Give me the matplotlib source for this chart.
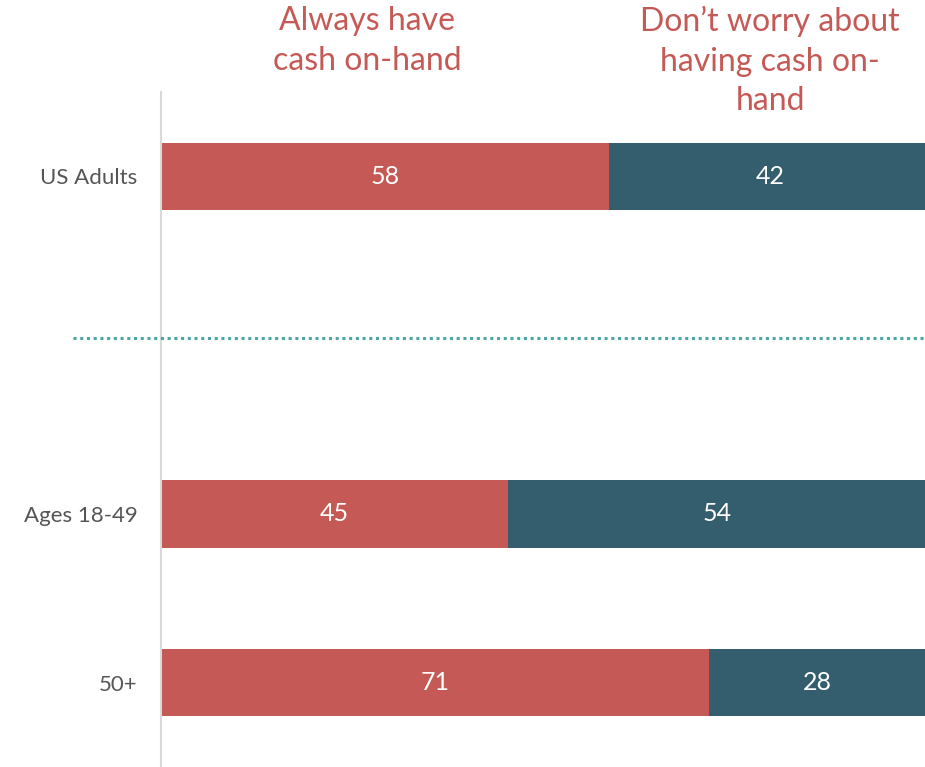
import matplotlib
matplotlib.use("Agg")
import matplotlib.pyplot as plt
import matplotlib.transforms as mtransforms

categories = ["US Adults", "Ages 18-49", "50+"]
positions = [0, 2, 3]
always_cash = [58, 45, 71]
dont_worry = [42, 54, 28]
headers = ["Always have\ncash on-hand", "Don\u2019t worry about\nhaving cash on-\nhand"]

RED = "#C45955"
TEAL = "#345E6E"
DOT = "#4BA6A6"

plt.rcParams["font.family"] = ["Lato", "DejaVu Sans"]

fig = plt.figure(figsize=(9.25, 7.67), dpi=100)
ax = fig.add_axes([161 / 925, 0.0, 1 - 161 / 925, 1 - 92 / 767])

ax.barh(positions, always_cash, height=0.4, color=RED)
ax.barh(positions, dont_worry, left=always_cash, height=0.4, color=TEAL)

for y, a, d in zip(positions, always_cash, dont_worry):
    ax.text(a / 2, y, str(a), ha="center", va="center", color="white", fontsize=18)
    ax.text(a + d / 2, y, str(d), ha="center", va="center", color="white", fontsize=18)

ax.set_xlim(0, 99)
ax.set_ylim(3.5, -0.5)
ax.set_yticks(positions)
ax.set_yticklabels(categories, fontsize=16, color="#555555")
ax.tick_params(axis="y", length=0, pad=17)
ax.set_xticks([])
for side in ["top", "right", "bottom"]:
    ax.spines[side].set_visible(False)
ax.spines["left"].set_color("#d9d9d9")
ax.spines["left"].set_linewidth(1.5)

# dotted separator between total and age groups
trans = mtransforms.blended_transform_factory(ax.transAxes, ax.transData)
ax.plot([(73 - 161) / (925 - 161), 1.0], [0.96, 0.96], transform=trans,
        color=DOT, linestyle=(0, (1, 1.2)), linewidth=2.2, clip_on=False, zorder=3)

fig.text(367 / 925, 1 - 6 / 767, headers[0], ha="center", va="top",
         color=RED, fontsize=23, linespacing=1.4)
fig.text(770 / 925, 1 - 6 / 767, headers[1], ha="center", va="top",
         color=RED, fontsize=23, linespacing=1.4)

fig.savefig("out.png", dpi=100)
